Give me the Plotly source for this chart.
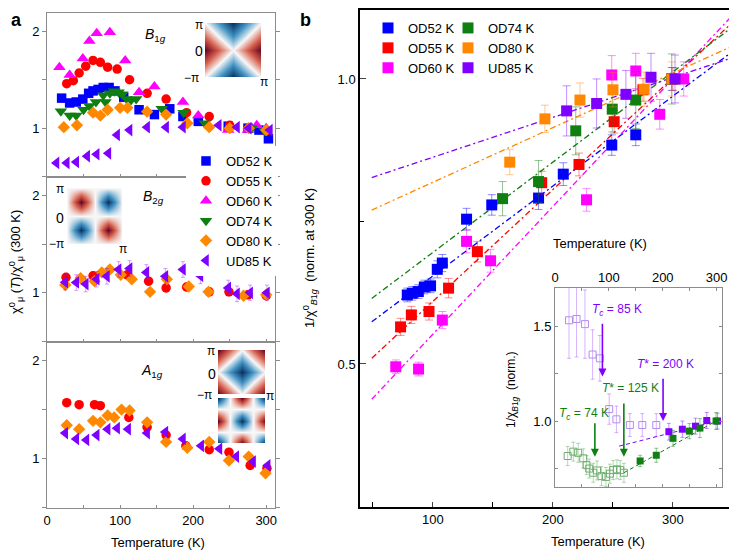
import plotly.graph_objects as go

# the page puts the figure 8 px in from the top-left corner of the window
OFF = 8
W, H = 737 - OFF, 551 - OFF
FONT = "Liberation Sans, Arial, sans-serif"

# series styling (same order everywhere)
names = ["OD52 K", "OD55 K", "OD60 K", "OD74 K", "OD80 K", "UD85 K"]
colors = ["#0000ff", "#ff0000", "#ff00ff", "#0f7f12", "#ff8800", "#7f00ff"]
err_colors = ["rgba(0,0,255,0.45)", "rgba(255,0,0,0.45)", "rgba(255,0,255,0.45)",
              "rgba(15,127,18,0.45)", "rgba(255,136,0,0.45)", "rgba(127,0,255,0.45)"]
symbols = ["square", "circle", "triangle-up", "triangle-down", "diamond", "triangle-left"]

# ---------------- panel a : chi(T)/chi(300 K) ----------------
# B1g
b1g_T = {
    "OD52 K": [20, 31, 40, 49, 57, 63, 70, 77, 85, 93, 105, 126, 147, 168, 186, 207, 248, 275, 290, 303],
    "OD55 K": [27, 36, 44, 53, 63, 73, 83, 96, 113, 137, 163, 191, 222, 250, 276, 300],
    "OD60 K": [17, 31, 49, 58, 68, 86, 107, 126, 147, 186, 207, 248, 275, 287, 300],
    "OD74 K": [19, 31, 40, 50, 58, 67, 77, 80, 86, 92, 98, 103, 109, 115, 122, 157, 187, 216, 280, 298],
    "OD80 K": [23, 41, 63, 73, 83, 100, 110, 137, 163, 192, 222, 250, 276, 300],
    "UD85 K": [13, 27, 40, 55, 68, 84, 96, 113, 137, 163, 186, 235, 260, 276, 305],
}
b1g_val = {
    "OD52 K": [1.31, 1.26, 1.27, 1.30, 1.36, 1.385, 1.40, 1.42, 1.42, 1.385, 1.32, 1.19, 1.14, 1.20, 1.12, 1.07, 1.02, 1.0, 0.98, 0.89],
    "OD55 K": [1.46, 1.49, 1.57, 1.64, 1.70, 1.68, 1.63, 1.61, 1.50, 1.36, 1.30, 1.16, 1.12, 1.03, 1.0, 0.97],
    "OD60 K": [1.63, 1.55, 1.72, 1.90, 1.98, 1.99, 1.70, 1.37, 1.43, 1.27, 1.13, 0.98, 0.98, 1.03, 1.0],
    "OD74 K": [1.175, 1.13, 1.13, 1.19, 1.23, 1.27, 1.34, 1.27, 1.36, 1.38, 1.37, 1.35, 1.30, 1.29, 1.30, 1.20, 1.16, 1.05, 1.0, 0.97],
    "OD80 K": [1.01, 1.03, 1.16, 1.13, 1.19, 1.21, 1.21, 1.17, 1.14, 1.05, 1.01, 1.0, 1.0, 0.98],
    "UD85 K": [0.64, 0.64, 0.65, 0.71, 0.73, 0.74, 0.93, 0.98, 1.01, 1.01, 1.01, 1.03, 1.01, 1.0, 0.98],
}
# B2g
b2g_T = {
    "OD55 K": [26, 63, 110, 139, 163, 191, 222, 249, 275, 300],
    "OD80 K": [25, 46, 65, 75, 86, 101, 116, 141, 164, 194, 221, 269, 300],
    "UD85 K": [25, 40, 53, 68, 82, 98, 113, 136, 162, 186, 210, 248, 260, 278, 301],
}
b2g_val = {
    "OD55 K": [1.16, 1.175, 1.185, 1.12, 1.05, 1.06, 1.01, 1.01, 0.98, 0.97],
    "OD80 K": [1.08, 1.15, 1.12, 1.21, 1.24, 1.185, 1.14, 1.01, 1.14, 1.065, 1.01, 0.97, 0.98],
    "UD85 K": [1.11, 1.106, 1.09, 1.14, 1.17, 1.24, 1.25, 1.21, 1.17, 1.24, 1.175, 1.05, 0.99, 1.0, 1.0],
}
b2g_err = {"OD55 K": 0.04, "OD80 K": 0.03, "UD85 K": 0.08}
# A1g
a1g_T = {
    "OD55 K": [27, 44, 65, 73, 112, 137, 163, 190, 222, 249, 278, 301],
    "OD80 K": [27, 44, 63, 73, 83, 92, 102, 113, 137, 163, 192, 222, 249, 276, 299],
    "UD85 K": [25, 40, 54, 68, 83, 96, 111, 137, 162, 186, 211, 236, 259, 282, 302],
}
a1g_val = {
    "OD55 K": [1.57, 1.55, 1.55, 1.54, 1.42, 1.32, 1.24, 1.13, 1.09, 1.065, 0.93, 0.90],
    "OD80 K": [1.34, 1.30, 1.385, 1.37, 1.44, 1.42, 1.50, 1.49, 1.37, 1.17, 1.11, 1.17, 0.98, 1.02, 0.85],
    "UD85 K": [1.26, 1.20, 1.19, 1.24, 1.30, 1.31, 1.30, 1.26, 1.27, 1.20, 1.13, 1.10, 1.02, 0.97, 0.93],
}

# form-factor sketches (5x5 grid over -pi..pi)
k_grid = [-3.1416, -1.5708, 0.0, 1.5708, 3.1416]
ff_b1g = [[0, 1, 2, 1, 0], [-1, 0, 1, 0, -1], [-2, -1, 0, -1, -2], [-1, 0, 1, 0, -1], [0, 1, 2, 1, 0]]
ff_b2g = [[0, 0, 0, 0, 0], [0, 1, 0, -1, 0], [0, 0, 0, 0, 0], [0, -1, 0, 1, 0], [0, 0, 0, 0, 0]]
ff_a1g_1 = [[-2, -1, 0, -1, -2], [-1, 0, 1, 0, -1], [0, 1, 2, 1, 0], [-1, 0, 1, 0, -1], [-2, -1, 0, -1, -2]]
ff_a1g_2 = [[1, 0, -1, 0, 1], [0, 0, 0, 0, 0], [-1, 0, 1, 0, -1], [0, 0, 0, 0, 0], [1, 0, -1, 0, 1]]

# ---------------- panel b : 1/chi_B1g normalised at 300 K ----------------
pb_T = {
    "OD52 K": [78.6, 82.8, 87.8, 92.8, 98, 103.6, 107.8, 128, 149, 188, 208.6, 249, 269, 299],
    "OD55 K": [73, 82, 96.7, 113, 137, 190.6, 221.7, 251, 275, 300],
    "OD60 K": [69, 88, 107.8, 128, 148, 228, 249, 269, 289, 309],
    "OD74 K": [158, 188, 219, 249.4, 269, 299],
    "OD80 K": [164, 193.3, 222.5, 250, 276, 299],
    "UD85 K": [211.4, 236.4, 260.8, 281.7, 301.7],
}
pb_val = {
    "OD52 K": [0.621, 0.624, 0.627, 0.635, 0.637, 0.666, 0.677, 0.754, 0.779, 0.791, 0.833, 0.884, 0.902, 1.0],
    "OD55 K": [0.565, 0.586, 0.592, 0.633, 0.697, 0.818, 0.850, 0.925, 0.981, 1.0],
    "OD60 K": [0.495, 0.491, 0.577, 0.715, 0.681, 0.788, 1.007, 1.014, 0.938, 1.0],
    "OD74 K": [0.79, 0.82, 0.909, 0.947, 0.963, 1.0],
    "OD80 K": [0.854, 0.930, 0.963, 0.981, 0.982, 1.0],
    "UD85 K": [0.944, 0.957, 0.973, 1.003, 1.0],
}
pb_err = {
    "OD52 K": [0.012, 0.012, 0.012, 0.012, 0.012, 0.015, 0.015, 0.019, 0.018, 0.02, 0.02, 0.018, 0.019, 0.02],
    "OD55 K": [0.015, 0.015, 0.015, 0.017, 0.018, 0.02, 0.02, 0.02, 0.02, 0.02],
    "OD60 K": [0.012, 0.012, 0.015, 0.02, 0.02, 0.02, 0.034, 0.031, 0.026, 0.03],
    "OD74 K": [0.03, 0.037, 0.042, 0.04, 0.05, 0.044],
    "OD80 K": [0.022, 0.024, 0.03, 0.03, 0.03, 0.03],
    "UD85 K": [0.044, 0.043, 0.042, 0.042, 0.042],
}
# dash-dot linear fits (end points)
fit_T = [49, 352]
fit_val = {
    "OD52 K": [0.574, 1.052],
    "OD55 K": [0.510, 1.104],
    "OD60 K": [0.438, 1.117],
    "OD74 K": [0.615, 1.095],
    "OD80 K": [0.770, 1.060],
    "UD85 K": [0.827, 1.039],
}

# inset: open symbols below T*
ud85_low_T = [26, 40, 55.6, 69.8, 83.3, 100.6, 114, 139, 162, 188]
ud85_low_val = [1.53, 1.537, 1.51, 1.35, 1.33, 1.063, 1.009, 0.979, 0.979, 0.979]
ud85_low_err = [0.2, 0.2, 0.18, 0.13, 0.12, 0.08, 0.07, 0.06, 0.06, 0.06]
od74_low_T = [23.5, 34, 43, 52.5, 58.6, 63.5, 71, 78, 86.4, 94.5, 102, 108, 115, 121, 128]
od74_low_val = [0.816, 0.839, 0.833, 0.804, 0.768, 0.75, 0.728, 0.74, 0.71, 0.706, 0.723, 0.742, 0.746, 0.742, 0.728]
od74_low_err = [0.05] * 15
inset_fit_ud85_T = [119, 302]
inset_fit_ud85_val = [0.868, 1.0]
inset_fit_od74_T = [128, 299]
inset_fit_od74_val = [0.728, 1.0]


# window pixel -> paper fraction
def pdx(px):
    return (px - OFF) / W


def pdy(py):
    return 1 - (py - OFF) / H


fig = go.Figure()

# panel a scatter
for i, nm in enumerate(names):
    sz = 11 if "triangle" in symbols[i] else 9.5
    fig.add_trace(go.Scatter(x=b1g_T[nm], y=b1g_val[nm], mode="markers", name=nm,
                             marker=dict(symbol=symbols[i], color=colors[i], size=sz),
                             xaxis="x", yaxis="y", legend="legend"))
for dT, dV, ax in [(b2g_T, b2g_val, "2"), (a1g_T, a1g_val, "3")]:
    for i, nm in enumerate(names):
        if nm not in dT:
            continue
        sz = 11 if "triangle" in symbols[i] else 9.5
        err = None
        if ax == "2":
            err = dict(type="constant", value=b2g_err[nm], color=err_colors[i], thickness=0.8, width=2)
        fig.add_trace(go.Scatter(x=dT[nm], y=dV[nm], mode="markers", showlegend=False,
                                 marker=dict(symbol=symbols[i], color=colors[i], size=sz),
                                 error_y=err, xaxis="x" + ax, yaxis="y" + ax))

# form factor insets
cs = [[0, "rgb(103,0,31)"], [0.25, "rgb(214,96,77)"], [0.5, "rgb(247,247,247)"],
      [0.75, "rgb(67,147,195)"], [1, "rgb(5,48,97)"]]
for z, ax in [(ff_b1g, "6"), (ff_b2g, "7"), (ff_a1g_1, "8"), (ff_a1g_2, "9")]:
    fig.add_trace(go.Heatmap(z=z, x=k_grid, y=k_grid, colorscale=cs, zmid=0, showscale=False,
                             zsmooth="best", hoverinfo="skip", xaxis="x" + ax, yaxis="y" + ax))

# panel b fits, then points
for i, nm in enumerate(names):
    fig.add_trace(go.Scatter(x=fit_T, y=fit_val[nm], mode="lines", showlegend=False,
                             line=dict(color=colors[i], width=1.3, dash="6px,3px,2px,3px"),
                             xaxis="x4", yaxis="y4"))
for i, nm in enumerate(names):
    fig.add_trace(go.Scatter(x=pb_T[nm], y=pb_val[nm], mode="markers", name=nm,
                             marker=dict(symbol="square", color=colors[i], size=11),
                             error_y=dict(type="data", array=pb_err[nm], color=err_colors[i],
                                          thickness=1, width=4),
                             xaxis="x4", yaxis="y4", legend="legend2" if i < 3 else "legend3"))

# inset of panel b
fig.add_trace(go.Scatter(x=inset_fit_ud85_T, y=inset_fit_ud85_val, mode="lines", showlegend=False,
                         line=dict(color=colors[5], width=1, dash="4px,3px"), xaxis="x5", yaxis="y5"))
fig.add_trace(go.Scatter(x=inset_fit_od74_T, y=inset_fit_od74_val, mode="lines", showlegend=False,
                         line=dict(color=colors[3], width=1, dash="4px,3px"), xaxis="x5", yaxis="y5"))
fig.add_trace(go.Scatter(x=ud85_low_T, y=ud85_low_val, mode="markers", showlegend=False,
                         marker=dict(symbol="square-open", color="#b38cf0", size=7, line=dict(width=1)),
                         error_y=dict(type="data", array=ud85_low_err, color="rgba(127,0,255,0.3)",
                                      thickness=1, width=2),
                         xaxis="x5", yaxis="y5"))
fig.add_trace(go.Scatter(x=od74_low_T, y=od74_low_val, mode="markers", showlegend=False,
                         marker=dict(symbol="square-open", color="#6fae6f", size=7, line=dict(width=1)),
                         error_y=dict(type="data", array=od74_low_err, color="rgba(15,127,18,0.3)",
                                      thickness=1, width=2),
                         xaxis="x5", yaxis="y5"))
for i in [5, 3]:
    nm = names[i]
    fig.add_trace(go.Scatter(x=pb_T[nm], y=pb_val[nm], mode="markers", showlegend=False,
                             marker=dict(symbol="square", color=colors[i], size=7),
                             error_y=dict(type="data", array=pb_err[nm], color=err_colors[i],
                                          thickness=1, width=2),
                             xaxis="x5", yaxis="y5"))

# ---------------- axes ----------------
tick_font = dict(family=FONT, size=13, color="black")
gray = "#8c8c8c"
pa_x = dict(range=[0, 312], tickvals=[0, 100, 200, 300], showline=True, linecolor=gray,
            mirror=True, ticks="inside", ticklen=3, tickcolor=gray, showgrid=False, zeroline=False,
            tickfont=tick_font, automargin=False,
            minor=dict(tickvals=[50, 150, 250], ticks="inside", ticklen=3, tickcolor=gray))
pa_y = dict(range=[0.495, 2.19], tickvals=[1, 2], showline=True,
            linecolor=gray, mirror="ticks", ticks="outside", ticklen=4, tickcolor=gray, showgrid=False,
            zeroline=False, tickfont=tick_font, automargin=False,
            minor=dict(tickvals=[0.5, 1.5], ticks="outside", ticklen=4, tickcolor=gray))
dom_ax = [pdx(47), pdx(275)]
lay = dict(
    xaxis=dict(pa_x, domain=dom_ax, anchor="y", showticklabels=False),
    yaxis=dict(pa_y, domain=[pdy(177), pdy(13)], anchor="x"),
    xaxis2=dict(pa_x, domain=dom_ax, anchor="y2", showticklabels=False),
    yaxis2=dict(pa_y, domain=[pdy(342), pdy(177)], anchor="x2"),
    xaxis3=dict(pa_x, domain=dom_ax, anchor="y3"),
    yaxis3=dict(pa_y, domain=[pdy(508), pdy(342)], anchor="x3"),
    xaxis4=dict(domain=[pdx(360), pdx(735)], anchor="y4", range=[39.2, 351.7],
                tickvals=[100, 200, 300],
                minor=dict(tickvals=[50, 150, 250, 350], ticks="inside", ticklen=5, tickcolor="black"),
                showline=True, linecolor="black", linewidth=1.5, mirror=True, ticks="inside", ticklen=5,
                tickwidth=1.2, showgrid=False, zeroline=False, tickfont=tick_font, automargin=False),
    yaxis4=dict(domain=[pdy(507), pdy(10)], anchor="x4", range=[0.249, 1.121],
                tickvals=[0.5, 1.0], tickformat=".1f",
                minor=dict(tickvals=[0.25, 0.75], ticks="inside", ticklen=4, tickcolor="black"),
                showline=True, linecolor="black", linewidth=1.5, mirror="ticks", ticks="inside", ticklen=6,
                tickwidth=1.2, showgrid=False, zeroline=False, tickfont=tick_font, automargin=False),
    xaxis5=dict(domain=[pdx(555), pdx(722)], anchor="y5", range=[0, 310], side="top",
                tickvals=[0, 100, 200, 300],
                minor=dict(tickvals=[50, 150, 250], ticks="inside", ticklen=3, tickcolor=gray),
                showline=True, linecolor=gray, mirror="ticks", ticks="inside", ticklen=3, tickcolor=gray,
                showgrid=False, zeroline=False, tickfont=tick_font, automargin=False),
    yaxis5=dict(domain=[pdy(487), pdy(288)], anchor="x5", range=[0.653, 1.70],
                tickvals=[1.0, 1.5], tickformat=".1f",
                minor=dict(tickvals=[0.75, 1.25], ticks="inside", ticklen=3, tickcolor=gray),
                showline=True, linecolor=gray, mirror="ticks", ticks="inside", ticklen=3, tickcolor=gray,
                showgrid=False, zeroline=False, tickfont=tick_font, automargin=False),
)
for ax, (x0, x1, y0, y1) in {"6": (205, 261, 23, 77), "7": (67, 122, 188, 244),
                             "8": (218, 265, 350, 394), "9": (218, 265, 398, 443)}.items():
    lay["xaxis" + ax] = dict(domain=[pdx(x0), pdx(x1)], anchor="y" + ax, range=[-3.1416, 3.1416],
                             visible=False, automargin=False)
    lay["yaxis" + ax] = dict(domain=[pdy(y1), pdy(y0)], anchor="x" + ax, range=[-3.1416, 3.1416],
                             visible=False, automargin=False)

# ---------------- text ----------------
ann = []


def txt(s, x, y, size=13, color="black", angle=0, xanchor="center", bold=False, yanchor="middle"):
    ann.append(dict(text="<b>%s</b>" % s if bold else s, x=pdx(x), y=pdy(y), xref="paper", yref="paper",
                    showarrow=False, font=dict(family=FONT, size=size, color=color), textangle=angle,
                    xanchor=xanchor, yanchor=yanchor))


# panel letters sit right at the top-left edge
txt("a", OFF + 1, OFF, size=18, bold=True, xanchor="left", yanchor="top")
txt("b", 305, OFF, size=18, bold=True, yanchor="top")
txt("<i>B</i><sub>1<i>g</i></sub>", 155, 35, size=14)
txt("<i>B</i><sub>2<i>g</i></sub>", 153, 197, size=14)
txt("<i>A</i><sub>1<i>g</i></sub>", 152, 371, size=14)
for (x, y, s) in [(199, 25, "π"), (199, 51, "0"), (192, 78, "−π"), (264, 82, "π"),
                  (60, 189, "π"), (60, 218, "0"), (56, 244, "−π"), (123, 249, "π"),
                  (211, 351, "π"), (212, 374, "0"), (205, 395, "−π"), (270, 396, "π")]:
    txt(s, x, y, size=12 if s != "0" else 14)
txt("χ<sup>0</sup><sub>μ</sub> (<i>T</i>)/χ<sup>0</sup><sub>μ</sub> (300 K)", 16, 262, size=13, angle=-90)
txt("1/χ<sup>0</sup><sub><i>B</i>1<i>g</i></sub>  (norm. at 300 K)", 310, 258, size=13, angle=-90)
txt("1/χ<sub><i>B</i>1<i>g</i></sub>  (norm.)", 512, 390, size=12, angle=-90)
txt("Temperature (K)", 158, 542, size=13)
txt("Temperature (K)", 598, 541, size=13)
txt("Temperature (K)", 600, 243, size=13)

# inset arrows and labels
purple, green = colors[5], colors[3]
for (T0, v0, v1, c) in [(88, 1.52, 1.235, purple), (200.6, 1.23, 1.0, purple),
                        (127.8, 1.10, 0.812, green), (74, 0.996, 0.812, green)]:
    ann.append(dict(x=T0, y=v1, ax=T0, ay=v0, xref="x5", yref="y5", axref="x5", ayref="y5", text="",
                    showarrow=True, arrowhead=2, arrowsize=1, arrowwidth=1.6, arrowcolor=c))
for (T0, v, s, c) in [(115, 1.585, "<i>T</i><sub><i>c</i></sub> = 85 K", purple),
                      (205, 1.30, "<i>T</i>* = 200 K", purple),
                      (140, 1.172, "<i>T</i>* = 125 K", green),
                      (53, 1.037, "<i>T</i><sub><i>c</i></sub> = 74 K", green)]:
    ann.append(dict(x=T0, y=v, xref="x5", yref="y5", text=s, showarrow=False,
                    font=dict(family=FONT, size=12, color=c)))

leg_common = dict(bgcolor="rgba(0,0,0,0)", font=dict(family=FONT, size=13, color="black"),
                  xanchor="left", yanchor="top", itemwidth=30, tracegroupgap=0)
lay["legend"] = dict(leg_common, x=pdx(186), y=pdy(146), bgcolor="white")
lay["legend2"] = dict(leg_common, x=pdx(368), y=pdy(13))
lay["legend3"] = dict(leg_common, x=pdx(448), y=pdy(13))

fig.update_layout(**lay)
fig.update_layout(width=W, height=H, margin=dict(l=0, r=0, t=0, b=0), plot_bgcolor="white",
                  paper_bgcolor="white", annotations=ann, font=dict(family=FONT))
fig.write_html("out.html")
